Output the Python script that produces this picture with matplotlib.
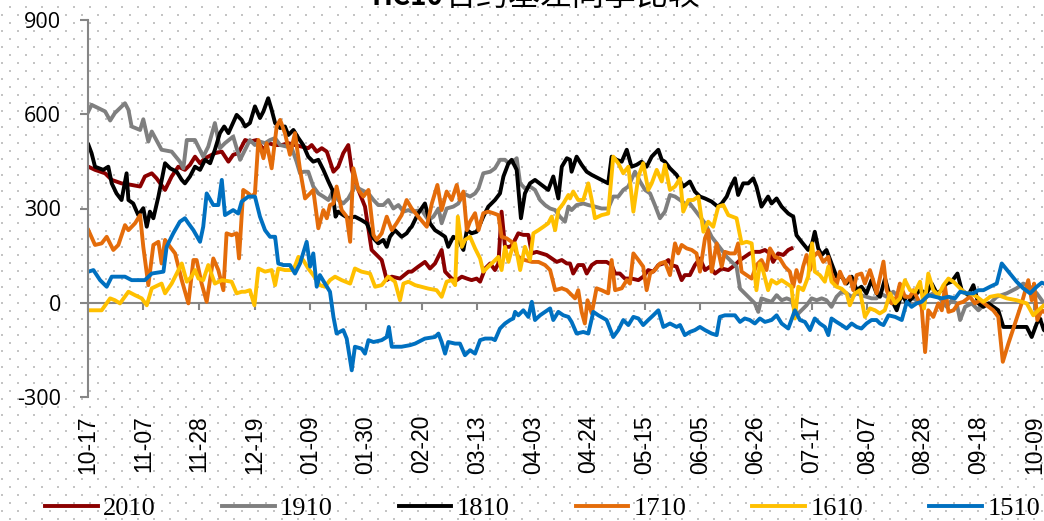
#!/usr/bin/env python3
"""
HC10 basis, same-season comparison (2015-2020 October contracts).
Recreates the line chart and saves it as out.png.
"""

import matplotlib
matplotlib.use("Agg")
import matplotlib.pyplot as plt
import numpy as np

# --- x axis: days since 10-17, tick labels every 21 days -------------------
tick_labels = ["10-17", "11-07", "11-28", "12-19", "01-09", "01-30", "02-20",
               "03-13", "04-03", "04-24", "05-15", "06-05", "06-26", "07-17",
               "08-07", "08-28", "09-18", "10-09"]
tick_step = 21

# --- series (days since 10-17, basis value) --------------------------------
days_2010 = [0.3, 2.8, 6.6, 9.1, 12.8, 16.6, 19.8, 21.6, 24.2, 26.0, 29.2, 31.7, 34.2, 36.7, 38.6,
             40.5, 42.4, 44.3, 48.0, 50.6, 53.1, 54.9, 56.8,
             59.4, 61.2, 63.8, 66.3, 68.1, 70.7, 73.2, 75.7, 78.2, 80.7, 83.2, 84.5, 86.4, 88.3, 90.2,
             92.7, 94.5, 96.4, 98.3, 99.6, 102.1, 104.6, 107.1, 109.0, 110.9, 112.8, 114.7, 117.8, 121.0,
             122.2, 124.7, 127.2, 129.1, 131.0, 133.5, 134.8, 137.3, 139.2, 141.1, 143.0, 144.8, 146.7,
             148.0, 149.9, 151.8, 153.6, 154.9, 156.1, 157.4, 159.3, 160.5, 162.4, 164.3, 166.2, 167.5,
             169.3, 171.2, 173.1, 175.0, 176.9, 178.8, 180.7,
             181.9, 183.1, 185.0, 186.9, 188.2, 190.1, 191.9, 195.7, 197.6, 198.9, 200.7, 202.6, 205.1,
             207.7, 209.5, 211.4, 213.3, 215.2, 217.1, 219.0, 220.2, 222.1, 224.0, 225.2, 227.1, 229.0,
             230.9, 232.8, 234.7, 236.6, 239.1, 241.6,
             244.1, 246.0, 247.8, 249.7, 251.6, 253.5, 255.4, 257.3, 258.5, 260.4, 262.3, 264.2, 265.4]
vals_2010 = [433, 423, 412, 391, 380, 375, 370, 402, 412, 396, 359, 402, 433, 423, 439,
             465, 444, 460, 476, 481, 449, 471, 476,
             518, 513, 518, 487, 508, 502, 502, 508, 502, 497, 492, 502, 481, 492, 481,
             417, 433, 476, 502, 423, 359, 306, 168, 152, 136, 72, 83, 77, 99,
             99, 115, 130, 109, 125, 168, 99, 77, 72, 83, 77, 72, 77,
             67, 109, 125, 104, 125, 290, 178, 178, 189, 221, 216, 216, 157,
             162, 157, 152, 141, 130, 136, 125,
             125, 93, 120, 120, 93, 120, 130, 130, 120, 93, 93, 77, 77,
             72, 83, 104, 99, 120, 125, 136, 120, 115, 72, 88, 88, 120,
             141, 104, 115, 93, 109, 104,
             120, 136, 146, 157, 162, 162, 168, 157, 130, 157, 152, 168, 173]

days_1910 = [0, 1.5, 6.6, 8.5, 10.3, 14.1, 15.4, 16.6, 19.8, 21, 22.9, 24.2, 27.9, 31.7, 34.8,
             36.1, 37.4, 40.5, 43.6, 45.5, 48, 49.9, 51.8, 54.9, 57.5,
             59.4, 61.2, 63.1, 65.0, 66.9, 68.8, 70.7, 72.6, 75.1, 77.0, 78.8, 80.1, 81.4, 83.2, 85.1,
             87.0, 88.9, 90.8, 92.7, 94.5, 96.4, 98.3, 100.8, 103.3, 105.9, 107.8, 109.6, 111.5, 113.4,
             115.3, 117.2, 119.1, 121.0,
             122.2, 126.0, 128.5, 130.4, 132.3, 133.5, 135.4, 137.9, 139.8, 141.7, 144.2, 146.1, 147.4,
             149.2, 151.8, 153.6, 155.5, 157.4, 158.7, 160.5, 161.8, 163.1, 164.9, 166.8, 168.7, 170.6,
             172.5, 174.4, 176.3, 178.1,
             180.0, 181.3, 182.5, 184.4, 186.9, 188.8, 191.3, 193.8, 196.3, 198.2, 200.1, 202.0, 203.9,
             206.4, 208.3, 210.2, 212.1, 213.9, 215.8, 217.7, 219.6, 221.5, 223.4, 225.2, 227.1, 229.0,
             230.9, 232.8, 235.3, 237.2, 239.1, 241.0, 242.2,
             244.7, 246.0, 247.8, 249.7, 251.6, 252.9, 254.1, 256.0, 257.9, 259.8, 261.7, 263.6, 265.4,
             267.3, 269.2, 271.1, 273.0, 274.9, 276.8, 278.6, 280.5, 282.4, 284.3, 286.2, 288.1, 290.0,
             291.8, 293.7, 295.6, 297.5,
             298.8, 301.3, 303.8, 306.3, 308.9, 311.4, 313.9, 316.4, 318.9, 321.4, 323.9, 325.8, 327.7,
             329.0, 330.9, 333.4, 335.9, 337.8, 340.3, 342.8, 346.6, 350.3, 352.8, 355.4, 357.9, 359.8,
             360.6, 363]
vals_1910 = [604, 630, 609, 580, 604, 635, 614, 561, 550, 584, 513, 545, 487, 481, 449,
             428, 518, 518, 465, 497, 572, 492, 508, 529, 455,
             487, 518, 502, 513, 508, 518, 524, 502, 497, 492, 449, 412, 417, 417, 370,
             348, 338, 327, 359, 327, 316, 332, 370, 359, 348, 327, 311, 311, 327,
             300, 311, 290, 295,
             290, 295, 263, 274, 300, 253, 300, 306, 316, 348, 338, 348, 364,
             412, 417, 428, 455, 455, 444, 449, 460, 380, 364, 370, 359, 327,
             311, 300, 295, 274,
             258, 306, 295, 311, 316, 311, 306, 300, 300, 338, 338, 359, 370,
             417, 386, 359, 348, 311, 269, 290, 343, 338, 327, 316, 316, 295,
             274, 253, 210, 189, 168, 146, 136,
             115, 45, 30, 14, -2, -29, 14, 8, 3, 24, 8, 14, 8,
             -40, -24, -8, 14, 8, 14, 8, -13, 19, 35, 30, 19, 30,
             24, 19, 14, 14,
             30, 19, 35, 14, 19, 14, -2, 19, 30, 14, -13, 8, -2,
             -55, -13, -2, -24, -8, -2, 19, 30, 46, 61, 51, 30, 8,
             -2, 0]

days_1810 = [0.3, 1.5, 2.8, 5.9, 7.8, 9.1, 10.9, 12.8, 14.7, 15.4, 17.2, 19.1, 21.0, 22.3, 23.5,
             24.8, 26.7, 29.2, 31.1, 33.6, 35.5, 36.7, 38.6, 40.5, 42.4, 44.3, 46.2, 48.0, 49.9, 51.5,
             53.1, 56.2, 58.1,
             59.4, 61.2, 63.1, 65.0, 66.3, 68.1, 69.4, 70.7, 72.6, 74.4, 75.7, 77.6, 79.5, 81.3, 83.2,
             85.1, 87.0, 88.9, 90.8, 92.3, 93.5, 94.5, 96.4, 98.3, 100.8, 103.3, 105.2, 107.8, 109.6,
             111.5, 112.8, 114.0, 115.9, 118.4, 120.3, 121.6,
             122.2, 124.7, 127.2, 129.1, 131.0, 132.9, 134.8, 136.0, 137.9, 139.8, 141.7, 143.0, 144.8,
             146.7, 149.2, 151.1, 153.6, 155.5, 156.8, 158.7, 159.9, 161.8, 163.4, 164.9, 166.8, 168.7,
             171.2, 173.7, 175.6, 177.5, 178.8, 180.7,
             181.9, 182.5, 184.4, 186.3, 188.2, 190.1, 192.6, 196.3, 197.6, 199.5, 201.4, 203.3, 205.1,
             207.0, 208.9, 210.8, 212.7, 215.2, 216.5, 217.7, 219.6, 222.1, 224.6, 227.1, 229.0, 230.9,
             232.8, 235.3, 237.6, 239.1, 241.0, 242.2,
             244.1, 245.3, 247.2, 249.1, 251.0, 252.2, 254.1, 256.6, 257.9, 259.8, 261.7, 264.2, 266.1,
             267.3, 269.2, 271.7, 273.2, 274.2, 275.5, 276.8, 278.6, 280.5, 282.4, 284.3, 286.2, 288.1,
             290.0, 291.8, 293.7, 295.6, 297.5,
             298.8, 300.7, 302.6, 305.1, 307.0, 308.9, 311.4, 313.9, 316.4, 318.3, 320.2, 322.1, 323.9,
             325.8, 328.0, 329.6, 332.1, 334.0, 335.9, 337.8, 339.7, 341.5, 343.4, 345.3, 349.1, 354.1,
             356.0, 357.9, 359.1, 360.6, 363]
vals_1810 = [503, 476, 433, 423, 433, 380, 348, 327, 412, 327, 316, 279, 301, 242, 290,
             269, 338, 444, 428, 417, 391, 380, 402, 433, 423, 455, 444, 487, 540, 561,
             540, 598, 582,
             561, 572, 625, 588, 609, 651, 614, 572, 556, 561, 534, 550, 524, 502, 465,
             449, 455, 423, 386, 359, 274, 290, 279, 269, 274, 263, 253, 205, 189,
             200, 178, 210, 231, 210, 221, 237,
             242, 285, 316, 253, 231, 221, 210, 178, 210, 200, 168, 231, 221,
             226, 274, 306, 327, 348, 402, 444, 455, 423, 269, 348, 380, 391,
             375, 359, 402, 332, 433, 460,
             455, 417, 465, 439, 417, 407, 396, 380, 465, 455, 449, 487, 433,
             439, 449, 433, 465, 487, 455, 449, 428, 407, 370, 386, 354, 338,
             332, 322, 306, 316, 338, 364,
             396, 343, 380, 380, 396, 370, 306, 338, 316, 332, 306, 284, 274,
             215, 194, 168, 189, 226, 173, 152, 168, 125, 83, 83, 61, 83,
             40, 51, 30, 72, 30,
             19, 77, 19, -24, 30, -2, 19, 40, 30, 61, 30, 40, 61,
             67, 93, 40, 24, 56, -2, -13, -2, -13, -24, -77, -77, -77,
             -109, -66, -50, -87, -100]

days_1710 = [0.3, 2.8, 5.3, 7.2, 9.7, 11.6, 14.1, 15.4, 17.9, 19.8, 21.0, 22.9, 24.8, 26.7, 27.9,
             29.2, 31.1, 33.0, 35.5, 38.0, 39.9, 41.1, 43.0, 44.9, 47.4, 49.3, 51.2, 52.4, 54.3, 56.2,
             57.1, 58.7, 60.6,
             61.9, 63.1, 64.4, 66.3, 67.5, 69.4, 71.3, 72.6, 74.4, 76.3, 78.2, 80.1, 82.0, 83.9, 85.1,
             87.0, 88.9, 90.2, 91.4, 92.7, 93.9, 95.8, 97.7, 99.0, 100.2, 102.1, 104.0, 105.9, 107.8,
             109.0, 110.9, 112.8, 114.7, 116.5, 118.4, 120.3,
             122.2, 124.7, 127.9, 129.8, 131.9, 133.5, 135.4, 137.3, 139.2, 140.4, 141.7, 143.0, 144.2,
             146.1, 147.4, 149.2, 151.1, 153.0, 154.9, 156.1, 158.0, 159.9, 162.4, 164.9, 167.5, 170.0,
             172.5, 174.4, 176.3, 178.8, 180.7,
             181.9, 183.8, 185.0, 186.3, 187.5, 188.5, 190.1, 191.9, 193.8, 196.3, 197.6, 198.9, 201.4,
             203.3, 204.5, 205.8, 207.7, 209.5, 210.8, 212.1, 213.9, 215.8, 217.7, 219.6, 221.5, 222.7,
             224.0, 225.9, 227.8, 229.6, 230.9, 232.8, 234.0, 235.3, 237.2, 239.1, 240.3, 242.2,
             244.1, 245.3, 246.6, 248.5, 250.4, 252.2, 254.1, 256.0, 257.3, 259.2, 261.0, 262.9, 264.8,
             266.1, 267.3, 268.6, 269.8, 271.1, 272.4, 273.6, 275.5, 277.4, 279.3, 280.5, 282.4, 283.7,
             285.6, 287.4, 288.7, 290.0, 291.8, 293.1, 295.0, 296.2, 297.5,
             300.1, 301.3, 303.2, 305.1, 306.3, 308.2, 310.1, 311.4, 312.6, 314.5, 315.8, 317.0, 318.9,
             320.8, 322.1, 323.3, 324.6, 326.5, 328.3, 330.2, 332.7, 334.6, 336.5, 339.0, 341.5, 343.4,
             345.1, 347.2, 349.7, 352.2, 354.7, 356.0, 356.9, 358.1, 359.8, 360.6, 363]
vals_1710 = [231, 184, 189, 210, 168, 184, 247, 231, 253, 279, 178, 56, 184, 194, 125,
             200, 178, 157, 72, -2, 136, 136, 61, 3, 141, 104, 40, 221, 215, 221,
             141, 359, 348,
             338, 348, 518, 460, 508, 428, 561, 582, 540, 471, 540, 423, 332, 348, 359,
             237, 295, 269, 311, 316, 370, 295, 274, 194, 428, 359, 338, 359, 216,
             200, 221, 274, 231, 253, 279, 327,
             300, 274, 242, 316, 375, 295, 354, 327, 375, 327, 354, 231, 258,
             285, 231, 285, 290, 285, 279, 210, 205, 194, 146, 136, 130, 130,
             120, 104, 40, 46, 40,
             30, 14, 40, -29, -66, 8, -34, 46, 40, 30, 136, 40, 46,
             72, 61, 157, 136, 115, 40, 93, 104, 125, 130, 88, 189, 157,
             184, 173, 168, 157, 99, 205, 231, 99, 189, 115, 162, 157,
             157, 189, 99, 88, 77, 120, 136, 104, 173, 146, 141, 115, 99,
             51, 104, 67, 115, 152, 104, 146, 162, 130, 146, 93, 56, 99,
             61, 83, 40, 88, 93, 61, 104, 72, 30,
             131, 40, -2, 19, 61, 19, 19, 40, 19, -13, -157, -24, -45,
             -2, -24, 51, -29, -24, -2, 3, 19, -2, 8, -8, -24, -45,
             -188, -130, -66, -2, 72, 8, 61, -55, -24, -29, -20]

days_1610 = [0.3, 1.5, 5.3, 8.5, 10.3, 12.2, 15.4, 17.9, 20.4, 22.3, 24.2, 27.9, 29.2, 31.7, 35.5,
             37.4, 39.2, 40.5, 41.8, 43.6, 45.5, 48.0, 50.6, 54.3, 56.2, 58.1,
             59.4, 61.2, 62.9, 64.4, 66.9, 69.4, 70.7, 71.9, 74.4, 77.6, 79.5, 81.3, 83.2, 85.1, 87.6,
             89.5, 91.4, 93.3, 95.8, 99.0, 100.8, 103.3, 106.5, 108.4, 110.9, 113.4, 115.9, 117.8,
             119.1, 121.0,
             123.5, 128.5, 131.6, 133.5, 135.4, 137.3, 138.6, 139.6, 141.1, 142.3, 144.2, 146.1, 148.0,
             149.2, 151.1, 153.0, 154.9, 156.1, 157.4, 158.7, 159.9, 161.2, 163.1, 164.9, 166.8, 168.1,
             170.0, 171.9, 173.7, 175.0, 176.3, 177.5, 179.4, 181.3,
             181.9, 183.1, 185.0, 186.9, 188.8, 190.1, 191.3, 193.8, 196.3, 198.2, 200.1, 202.0, 203.9,
             205.8, 207.7, 209.5, 211.4, 212.7, 214.6, 216.5, 217.7, 219.6, 221.5, 223.4, 224.6, 226.5,
             228.4, 230.3, 232.2, 234.0, 235.9, 237.8, 239.7, 241.6,
             244.7, 246.6, 248.5, 250.4, 252.2, 253.5, 254.8, 256.6, 257.9, 259.8, 261.7, 263.6, 265.4,
             266.7, 268.0, 269.8, 271.7, 273.2, 274.2, 276.1, 278.0, 279.3, 280.5, 282.4, 284.3, 286.2,
             287.4, 289.3, 291.2, 293.1, 295.0, 296.9, 298.7, 300.6,
             302.6, 304.5, 306.3, 308.2, 310.1, 312.0, 313.9, 315.4, 317.0, 318.9, 320.8, 322.7, 324.6,
             326.5, 329.0, 330.9, 332.7, 335.3, 337.8, 340.3, 343.4, 346.6, 350.3, 354.1, 356.6, 358.5,
             360.6, 363]
vals_1610 = [-24, -24, -24, 14, 8, -2, 35, 24, 14, -8, 46, 61, 30, 61, 125,
             67, 83, 104, 77, 72, 120, 61, 72, 67, 30, 35,
             35, 40, -8, 109, 99, 104, 56, 109, 104, 104, 146, 136, 109, 88, 56,
             51, 72, 83, 72, 61, 109, 99, 93, 51, 56, 83, 67, 8,
             61, 67,
             56, 45, 40, 19, 67, 72, 56, 274, 178, 200, 210, 173, 141,
             99, 115, 130, 146, 104, 178, 130, 168, 189, 104, 178, 136, 221,
             231, 242, 253, 274, 231, 295, 316, 343,
             332, 354, 327, 327, 380, 327, 269, 279, 284, 465, 444, 412, 433,
             290, 402, 444, 359, 380, 423, 386, 439, 359, 370, 396, 290, 327,
             327, 338, 226, 258, 242, 306, 311, 279,
             269, 189, 194, 189, 40, 125, 99, 40, 72, 61, 72, 61, 51,
             -50, 51, 40, 83, 189, 99, 88, 67, 115, 67, 51, 45, 30,
             -8, 30, 40, -45, -18, -24, -34, -24,
             30, -2, 14, 72, 40, 35, 67, -18, 93, 40, 24, 56, 77,
             67, 46, 30, 30, 19, 3, 19, 24, 14, 8, -2, -40, -24,
             -8, -10]

days_1510 = [0.3, 2.2, 4.7, 7.2, 9.1, 14.1, 16.6, 21.6, 24.2, 28.6, 29.8, 32.3, 34.8, 36.7, 38.0,
             39.9, 42.4, 43.6, 44.9, 47.4, 49.3, 50.6, 51.8, 54.9, 56.8, 58.1, 60.6,
             63.1, 65.0, 66.9, 68.8, 70.7, 71.9, 73.8, 76.3, 78.2, 80.1, 82.6, 83.9, 85.1, 86.4, 87.6,
             89.5, 91.4, 92.7, 93.9, 96.4, 97.7, 99.6, 100.8, 103.3, 104.6, 105.9, 107.8, 110.9, 112.8,
             113.6, 114.7, 118.4, 121.6,
             123.5, 127.2, 131.0, 132.3, 133.5, 134.8, 136.0, 138.6, 140.4, 142.3, 144.2, 146.1, 148.0,
             149.9, 152.4, 153.6, 155.5, 157.4, 159.3, 160.5, 161.2, 162.4, 164.3, 166.2, 167.5, 168.7,
             170.6, 172.5, 174.4, 175.6, 177.5, 179.4, 181.3,
             182.5, 184.4, 186.9, 188.8, 190.7, 192.6, 195.7, 198.2, 200.1, 202.0, 203.9, 205.8, 207.7,
             209.5, 211.4, 213.3, 215.2, 217.1, 219.6, 222.1, 223.4, 225.2, 227.1, 229.0, 230.9, 232.8,
             235.3, 237.2, 238.4, 240.3, 242.2,
             244.1, 246.0, 247.8, 249.7, 251.6, 253.5, 255.4, 257.9, 259.8, 261.7, 264.2, 266.7, 268.6,
             270.5, 272.4, 274.2, 276.1, 278.0, 279.3, 280.5, 282.4, 284.3, 286.2, 288.1, 290.0, 291.8,
             293.7, 295.6, 297.5,
             298.8, 300.1, 302.0, 304.5, 307.0, 308.9, 310.7, 312.6, 314.5, 317.0, 319.5, 322.1, 324.6,
             327.1, 329.0, 331.5, 334.0, 335.9, 337.8, 340.3, 342.8, 344.7, 347.2, 350.3, 352.8, 355.4,
             357.9, 359.8, 360.6, 363]
vals_1510 = [99, 104, 72, 51, 83, 83, 72, 72, 93, 99, 178, 221, 258, 269, 253,
             231, 194, 242, 348, 311, 311, 391, 279, 295, 284, 322, 338,
             338, 274, 231, 210, 210, 125, 120, 120, 93, 125, 194, 115, 157, 51, 88,
             61, 35, -45, -98, -87, -114, -215, -140, -146, -162, -119, -125, -119, -109,
             -77, -140, -140, -135,
             -130, -114, -109, -98, -125, -162, -125, -130, -130, -167, -151, -162, -119,
             -114, -114, -119, -82, -66, -55, -50, -29, -40, -24, -45, 3, -55,
             -40, -29, -18, -55, -29, -40, -45,
             -61, -98, -93, -98, -29, -40, -55, -109, -87, -55, -71, -45, -50,
             -71, -55, -40, -24, -77, -66, -77, -71, -103, -93, -87, -77, -87,
             -98, -103, -45, -40, -40,
             -40, -61, -50, -55, -66, -50, -61, -55, -40, -66, -82, -24, -55,
             -61, -87, -50, -66, -77, -103, -50, -61, -71, -82, -66, -77, -82,
             -66, -55, -55,
             -66, -71, -40, -45, -55, 3, -13, -2, 3, 24, 19, 14, 19,
             14, 35, 30, 30, 40, 40, 51, 61, 125, 99, 67, 46, 30,
             51, 64, 61, 60]

series_names = ["2010", "1910", "1810", "1710", "1610", "1510"]
series_days = [days_2010, days_1910, days_1810, days_1710, days_1610, days_1510]
series_vals = [vals_2010, vals_1910, vals_1810, vals_1710, vals_1610, vals_1510]
series_colors = ["#8B0000", "#7F7F7F", "#000000", "#E46C0A", "#FFC000", "#0070C0"]

title_latin = "HC10"
title_cjk = "合约基差同季比较"

W, H = 1044, 521
GREY = "#868686"


def draw_dot_background(fig):
    """Light dotted pattern behind the whole chart."""
    bg = fig.add_axes([0, 0, 1, 1], zorder=-5)
    bg.set_xlim(0, W)
    bg.set_ylim(H, 0)
    bg.axis("off")
    xs, ys = [], []
    for k, y in enumerate(np.arange(6.7, H, 8.0)):
        off = 1.7 if k % 2 else 9.7
        row = np.arange(off, W, 16.0)
        xs.extend(row)
        ys.extend([y] * len(row))
    bg.scatter(xs, ys, s=1.3, marker="s", color="#C4C4C4", linewidths=0)


def main():
    fig = plt.figure(figsize=(W / 100, H / 100), dpi=100)
    fig.patch.set_facecolor("white")
    draw_dot_background(fig)

    # plot area: 900 at y=20px, -300 at y=397px, day 0 at x=87.6px, 2.652 px/day
    left = 87.6 / W
    width = 365 * 2.652 / W
    bottom = 1 - 397.0 / H
    height = 377.0 / H
    ax = fig.add_axes([left, bottom, width, height])
    ax.set_facecolor("none")

    lines = []
    for name, d, v, c in zip(series_names, series_days, series_vals, series_colors):
        assert len(d) == len(v), name
        ln, = ax.plot(d, v, color=c, lw=2.8, label=name, solid_joinstyle="round")
        lines.append(ln)

    ax.set_xlim(0, 365)
    ax.set_ylim(-300, 900)

    ticks = np.arange(len(tick_labels)) * tick_step
    ax.set_xticks(ticks)
    ax.set_xticklabels(tick_labels, rotation=90, family="Liberation Sans", fontsize=16.5)
    ax.tick_params(axis="x", length=0, pad=13)

    ax.set_yticks([-300, 0, 300, 600, 900])
    ax.set_yticklabels(["-300", "0", "300", "600", "900"], family="Open Sans", fontsize=15.5)
    ax.tick_params(axis="y", length=6, width=1.5, color=GREY, pad=13)

    for s in ["top", "right", "bottom"]:
        ax.spines[s].set_visible(False)
    ax.spines["left"].set_color(GREY)
    ax.spines["left"].set_linewidth(1.5)

    # category axis crosses at 0, with its own short tick marks
    sec = ax.secondary_xaxis(0.25)
    sec.set_xticks(ticks)
    sec.tick_params(axis="x", direction="out", length=5, width=1.5, color=GREY,
                    labelbottom=False, labeltop=False)
    for s in sec.spines.values():
        s.set_color(GREY)
        s.set_linewidth(1.5)

    # title, cut at the top like the source
    fig.text(443 / W, 1 - 5.0 / H, title_latin, ha="right", va="baseline",
             family=["Noto Sans CJK SC", "DejaVu Sans"], fontsize=20, fontweight="bold")
    fig.text(445 / W, 1 - 5.0 / H, title_cjk, ha="left", va="baseline",
             family=["Noto Sans CJK SC", "DejaVu Sans"], fontsize=23)

    fig.legend(handles=lines, loc="center left", bbox_to_anchor=(45 / W, 1 - 508.0 / H),
               ncol=6, frameon=False, borderpad=0, borderaxespad=0,
               handlelength=2.0, handletextpad=0.2, columnspacing=2.5,
               prop={"family": "Liberation Serif", "size": 19})

    fig.savefig("out.png", dpi=100)
    plt.close(fig)


if __name__ == "__main__":
    main()
